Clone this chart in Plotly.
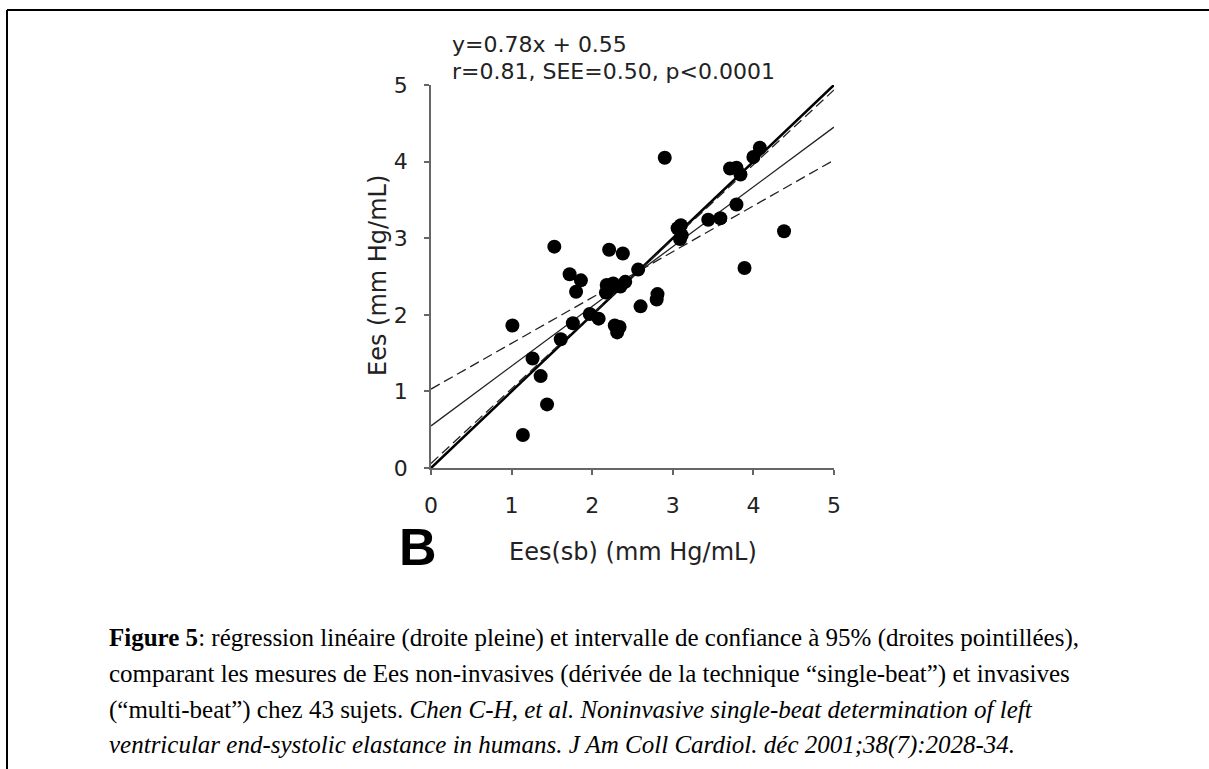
import plotly.graph_objects as go

# ---- data ----
ees_sb = [1.01, 1.14, 1.26, 1.36, 1.44, 1.53, 1.61, 1.72, 1.76, 1.80,
          1.86, 1.97, 2.08, 2.21, 2.18, 2.17, 2.26, 2.28, 2.34, 2.31,
          2.38, 2.35, 2.41, 2.57, 2.60, 2.81, 2.80, 2.90, 3.06, 3.10,
          3.09, 3.11, 3.44, 3.59, 3.71, 3.79, 3.84, 3.79, 3.89, 4.00,
          4.08, 4.38, 2.20]
ees = [1.86, 0.43, 1.43, 1.20, 0.83, 2.89, 1.68, 2.53, 1.89, 2.30,
       2.45, 2.01, 1.95, 2.85, 2.39, 2.29, 2.41, 1.86, 1.84, 1.77,
       2.80, 2.37, 2.43, 2.59, 2.11, 2.27, 2.20, 4.05, 3.13, 3.17,
       2.99, 3.04, 3.24, 3.26, 3.91, 3.92, 3.83, 3.44, 2.61, 4.06,
       4.18, 3.09, 2.33]

line_x = [0, 5]
identity_y = [0, 5]
reg_slope, reg_intercept = 0.78, 0.55
ci_upper = (0.598, 1.03)   # slope, intercept of dashed line starting high
ci_lower = (0.975, 0.06)   # slope, intercept of dashed line starting low

tick_vals = [0, 1, 2, 3, 4, 5]
tick_text = ["0", "1", "2", "3", "4", "5"]

caption_lines = [
    "<b>Figure 5</b>: régression linéaire (droite pleine) et intervalle de confiance à 95% (droites pointillées),",
    "comparant les mesures de Ees non-invasives (dérivée de la technique “single-beat”) et invasives",
    "(“multi-beat”) chez 43 sujets. <i>Chen C-H, et al. Noninvasive single-beat determination of left</i>",
    "<i>ventricular end-systolic elastance in humans. J Am Coll Cardiol. déc 2001;38(7):2028-34.</i>",
]

# ---- layout geometry (pixels) ----
W, H = 1209, 769
L, R, T, B = 431, 375, 85, 301
PW, PH = W - L - R, H - T - B


def px(x):
    return (x - L) / PW


def py(y):
    return (H - B - y) / PH


SANS = "DejaVu Sans"
SERIF = "Liberation Serif"

fig = go.Figure()


def line_y(slope, intercept):
    return [slope * v + intercept for v in line_x]


fig.add_trace(go.Scatter(x=line_x, y=identity_y, mode="lines",
                         line=dict(color="black", width=2.6), hoverinfo="skip"))
fig.add_trace(go.Scatter(x=line_x, y=line_y(reg_slope, reg_intercept), mode="lines",
                         line=dict(color="#222", width=1.3), hoverinfo="skip"))
fig.add_trace(go.Scatter(x=line_x, y=line_y(*ci_upper), mode="lines",
                         line=dict(color="#222", width=1.3, dash="10px,5px"), hoverinfo="skip"))
fig.add_trace(go.Scatter(x=line_x, y=line_y(*ci_lower), mode="lines",
                         line=dict(color="#222", width=1.3, dash="10px,5px"), hoverinfo="skip"))
fig.add_trace(go.Scatter(x=ees_sb, y=ees, mode="markers",
                         marker=dict(color="black", size=14, line=dict(width=0)),
                         cliponaxis=False))

axis_common = dict(
    range=[0, 5], tickvals=tick_vals, ticktext=tick_text,
    showline=True, linecolor="#666", linewidth=1.5,
    ticks="outside", ticklen=5, tickcolor="#666", tickwidth=1.5,
    showgrid=False, zeroline=False,
    tickfont=dict(family=SANS, size=22, color="#222"),
    fixedrange=True,
)

fig.update_layout(
    width=W, height=H, autosize=False,
    margin=dict(l=L, r=R, t=T, b=B),
    paper_bgcolor="white", plot_bgcolor="white",
    showlegend=False,
    xaxis=dict(**axis_common, ticklabelstandoff=12),
    yaxis=dict(**axis_common, ticklabelstandoff=12),
)

ann = []
# equation text
ann.append(dict(text="y=0.78x + 0.55", x=px(450), y=py(45), xref="paper", yref="paper",
                xanchor="left", yanchor="middle", showarrow=False,
                font=dict(family=SANS, size=22, color="#222")))
ann.append(dict(text="r=0.81, SEE=0.50, p<0.0001", x=px(450), y=py(71), xref="paper", yref="paper",
                xanchor="left", yanchor="middle", showarrow=False,
                font=dict(family=SANS, size=22, color="#222")))
# axis titles
ann.append(dict(text="Ees (mm Hg/mL)", x=px(378), y=py(276), xref="paper", yref="paper",
                xanchor="center", yanchor="middle", textangle=-90, showarrow=False,
                font=dict(family=SANS, size=24, color="#222")))
ann.append(dict(text="Ees(sb) (mm Hg/mL)", x=px(633), y=py(552), xref="paper", yref="paper",
                xanchor="center", yanchor="middle", showarrow=False,
                font=dict(family=SANS, size=24, color="#222")))
# panel letter
ann.append(dict(text="<b>B</b>", x=px(418), y=py(547), xref="paper", yref="paper",
                xanchor="center", yanchor="middle", showarrow=False, height=38,
                font=dict(family="Liberation Sans", size=52, color="black")))
# caption
for i, (txt, yy) in enumerate(zip(caption_lines, [638, 674, 710, 745])):
    ann.append(dict(text=txt, x=px(107), y=py(yy), xref="paper", yref="paper",
                    xanchor="left", yanchor="middle", showarrow=False,
                    font=dict(family=SERIF, size=25, color="black")))
fig.update_layout(annotations=ann)

# page border (top and left)
fig.add_shape(type="line", xref="paper", yref="paper",
              x0=px(7), y0=py(10), x1=px(1215), y1=py(10), line=dict(color="black", width=2))
fig.add_shape(type="line", xref="paper", yref="paper",
              x0=px(7), y0=py(10), x1=px(7), y1=py(775), line=dict(color="black", width=2))

fig.write_html("out.html",
               config={"displayModeBar": False},
               post_script="document.body.style.margin='0';document.body.style.padding='0';"
                           "document.documentElement.style.overflow='hidden';")
